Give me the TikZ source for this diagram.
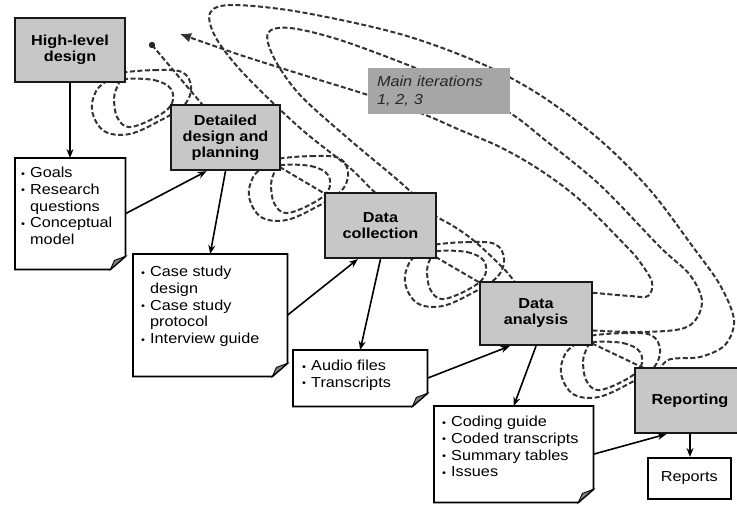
\documentclass[tikz,border=0pt]{standalone}
\usepackage{fontspec}
\setmainfont{Liberation Sans}[FakeStretch=1.12]
\usetikzlibrary{arrows.meta,calc}
\newcommand{\bu}{\makebox[9pt][l]{\raisebox{0.5pt}{\fontsize{10}{10}\selectfont •}}}
\newcommand{\ind}{\hspace*{9pt}}
\newcommand{\notepath}[1]{%
  \draw[noteline] (#1.north west) -- (#1.north east) -- ($(#1.south east)+(0,-13)$)
     -- ($(#1.south east)+(-15,0)$) -- (#1.south west) -- cycle;
  \filldraw[black!50, draw=black, line width=0.9pt] ($(#1.south east)+(0,-13)$)
     -- ($(#1.south east)+(-15,0)$) -- ($(#1.south east)+(-11,-9)$) -- cycle;}
\begin{document}
\begin{tikzpicture}[x=1pt,y=-1pt,
  proc/.style={draw=black!90, line width=2.2pt, fill=black!22, align=center,
     font=\fontsize{14.5}{16}\selectfont\bfseries, inner sep=2pt},
  notebg/.style={draw=none, fill=white, inner sep=0pt},
  noteline/.style={draw=black, line width=1.7pt, fill=white},
  notetext/.style={anchor=north west, inner sep=0pt, align=left,
     font=\fontsize{14.5}{16.7}\selectfont},
  flow/.style={draw=black, line width=1.6pt, -{Stealth[length=9pt,width=7pt]}},
  dashline/.style={draw=black!80, line width=2pt, dash pattern=on 5pt off 2.5pt},
  lbl/.style={fill=black!35, text=black!85, align=left, text width=124pt,
     minimum width=142pt, minimum height=46pt, inner xsep=9pt,
     font=\fontsize{14.5}{17.5}\selectfont\itshape}
]
\clip (0,0) rectangle (737,504);
\fill[white] (0,0) rectangle (737,504);

% ---------- process boxes (positions) ----------
\path
  (70,50) node[proc, minimum width=110pt, minimum height=64pt, fill=none, draw=none] (hld) {}
  (225.5,137.5) node[proc, minimum width=109pt, minimum height=65pt, fill=none, draw=none] (ddp) {}
  (380.5,225.5) node[proc, minimum width=111pt, minimum height=65pt, fill=none, draw=none] (dc) {}
  (536,313.5) node[proc, minimum width=112pt, minimum height=63pt, fill=none, draw=none] (da) {}
  (690,400.5) node[proc, minimum width=110pt, minimum height=65pt, fill=none, draw=none] (rep) {};

% ---------- small loops ----------
\tikzset{loops/.pic={
  \draw[dashline] plot[smooth cycle, tension=0.6] coordinates
    {(-5,0) (30,-3) (58,-1) (67,14) (60,32) (35,48) (5,61) (-20,58) (-32,38) (-28,18) (-15,6)};
  \draw[dashline] plot[smooth cycle, tension=0.6] coordinates
    {(0,6) (30,7) (47,16) (47,32) (30,45) (5,54) (-7,44) (-10,25) (-6,12)};
}}
\path ($(hld.south east)+(-2,-10)$) pic {loops};
\path ($(ddp.south east)+(0,-12)$) pic {loops};
\path ($(dc.south east)+(0,-14)$) pic {loops};
\path ($(da.south east)+(0,-10)$) pic {loops};

% ---------- connecting dashed lines through loops ----------
\coordinate (start) at (152,45);
\draw[dashline] (start) -- ($(ddp.north west)+(42,12)$);
\fill[black!85] (start) circle (3.2pt);
\draw[dashline] ($(ddp.south east)+(-8,-8)$) -- ($(dc.north west)+(8,6)$);
\draw[dashline] ($(dc.south east)+(-8,-6)$) -- ($(da.north west)+(8,6)$);
\draw[dashline] ($(da.south east)+(-8,-6)$) -- ($(rep.north west)+(20,6)$);

% ---------- big iteration loops ----------
\draw[dashline] plot[smooth, tension=0.55] coordinates
  {(655,378) (668,360) (700,357) (725,345) (734,320) (720,285) (693,247) (650,190)
   (600,140) (540,95) (480,63) (400,34) (300,12) (232,5) (210,13) (216,38) (245,75)
   (300,128) (350,168) (385,200) (430,214) (468,236) (505,270) (520,290)};
\draw[dashline] plot[smooth, tension=0.55] coordinates
  {(585,330) (640,332) (687,327) (702,303) (690,275) (660,247) (600,185) (545,140)
   (510,113) (460,88) (413,67) (340,40) (290,28) (268,33) (274,58) (300,95)
   (350,140) (400,182) (430,210)};
\draw[dashline, -{Latex[length=11pt,width=10pt]}] plot[smooth, tension=0.55] coordinates
  {(585,292) (630,296) (648,296) (652,282) (640,262) (627,247) (580,200) (540,170)
   (500,147) (460,130) (423,114) (368,95) (300,74) (240,55)} -- (180,34);

% ---------- process boxes (drawn) ----------
\node[proc, minimum width=110pt, minimum height=64pt] at (hld) {High-level\\design};
\node[proc, minimum width=109pt, minimum height=65pt] at (ddp) {Detailed\\design and\\planning};
\node[proc, minimum width=111pt, minimum height=65pt] at (dc) {Data\\collection};
\node[proc, minimum width=112pt, minimum height=63pt] at (da) {Data\\analysis};
\node[proc, minimum width=110pt, minimum height=65pt] at (rep) {Reporting};

% ---------- iteration label ----------
\node[lbl] (iter) at (439,91) {Main iterations\\1, 2, 3};

% ---------- note boxes ----------
\node[notebg, minimum width=110pt, minimum height=111pt, anchor=north west] (goals) at (15,158) {};
\node[notebg, minimum width=154pt, minimum height=122pt, anchor=north west] (case) at (133,254) {};
\node[notebg, minimum width=134pt, minimum height=56pt, anchor=north west] (audio) at (293,350) {};
\node[notebg, minimum width=159pt, minimum height=96pt, anchor=north west] (coding) at (434,406) {};
\notepath{goals}
\notepath{case}
\notepath{audio}
\notepath{coding}
\node[draw=black, line width=1.7pt, fill=white, minimum width=83pt, minimum height=41pt,
  font=\fontsize{14.5}{16.7}\selectfont, anchor=north west] (reports) at (647,457) {Reports};

\node[notetext] (goalsT) at ($(goals.north west)+(6,9)$)
  {\bu Goals\\\bu Research\\\ind questions\\\bu Conceptual\\\ind model};
\node[notetext] (caseT) at ($(case.north west)+(8,12)$)
  {\bu Case study\\\ind design\\\bu Case study\\\ind protocol\\\bu Interview guide};
\node[notetext] (audioT) at ($(audio.north west)+(9,10)$)
  {\bu Audio files\\\bu Transcripts};
\node[notetext] (codingT) at ($(coding.north west)+(8,10)$)
  {\bu Coding guide\\\bu Coded transcripts\\\bu Summary tables\\\bu Issues};

% ---------- flow arrows ----------
\draw[flow] (hld.south) -- (hld.south |- goals.north);
\draw[flow] (goals.east) -- ($(ddp.south west)!0.33!(ddp.south east)$);
\draw[flow] (ddp.south) -- (case.north);
\draw[flow] (case.east) -- ($(dc.south west)!0.3!(dc.south east)$);
\draw[flow] (dc.south) -- (audio.north);
\draw[flow] (audio.east) -- ($(da.south west)!0.27!(da.south east)$);
\draw[flow] (da.south) -- (coding.north);
\draw[flow] (coding.east) -- ($(rep.south west)!0.29!(rep.south east)$);
\draw[flow] (rep.south) -- (rep.south |- reports.north);
\end{tikzpicture}
\end{document}
